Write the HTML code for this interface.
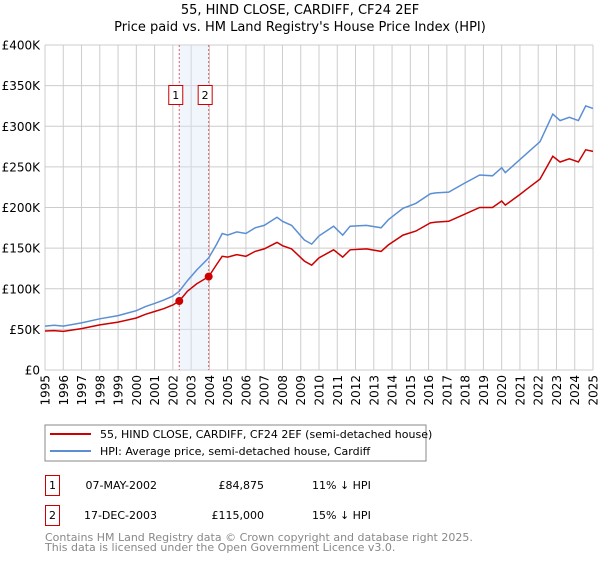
<!DOCTYPE html>
<html><head><meta charset="utf-8"><style>
body{margin:0;background:#fff;}
svg{font-family:"DejaVu Sans","Liberation Sans",sans-serif;}
</style></head><body>
<svg id="c" width="600" height="560" xmlns="http://www.w3.org/2000/svg">
<text x="300" y="14" text-anchor="middle" font-size="13">55, HIND CLOSE, CARDIFF, CF24 2EF</text>
<text x="300" y="31" text-anchor="middle" font-size="13">Price paid vs. HM Land Registry's House Price Index (HPI)</text>
<g id="grid"></g><g id="band"></g><g id="lines"></g><g id="axes"></g>
<rect x="45" y="425" width="381" height="36" fill="none" stroke="#888"/>
<line x1="50" y1="434" x2="91" y2="434" stroke="#cc0000" stroke-width="2"/>
<text x="100" y="438" font-size="11">55, HIND CLOSE, CARDIFF, CF24 2EF (semi-detached house)</text>
<line x1="50" y1="451" x2="91" y2="451" stroke="#5b8fd4" stroke-width="2"/>
<text x="100" y="455" font-size="11">HPI: Average price, semi-detached house, Cardiff</text>
<g>
<rect x="45.5" y="475.5" width="14" height="20" fill="none" stroke="#cc0000"/>
<text x="52.5" y="489" font-size="11" text-anchor="middle">1</text>
<text x="157" y="489" font-size="11" text-anchor="end">07-MAY-2002</text>
<text x="264" y="489" font-size="11" text-anchor="end">£84,875</text>
<text x="312" y="489" font-size="11">11% ↓ HPI</text></g>
<g>
<rect x="45.5" y="505.5" width="14" height="20" fill="none" stroke="#cc0000"/>
<text x="52.5" y="519" font-size="11" text-anchor="middle">2</text>
<text x="157" y="519" font-size="11" text-anchor="end">17-DEC-2003</text>
<text x="264" y="519" font-size="11" text-anchor="end">£115,000</text>
<text x="312" y="519" font-size="11">15% ↓ HPI</text></g>
<text x="45" y="541" font-size="11" fill="#888">Contains HM Land Registry data © Crown copyright and database right 2025.</text>
<text x="45" y="551" font-size="11" fill="#888">This data is licensed under the Open Government Licence v3.0.</text>
</svg>
<script>
const years=[1995,1995.5,1996,1997,1998,1999,2000,2000.5,2001,2001.5,2002,2002.35,2002.8,2003.3,2003.96,2004.4,2004.7,2005,2005.5,2006,2006.5,2007,2007.7,2008,2008.5,2009.2,2009.6,2010,2010.8,2011.3,2011.7,2012.6,2013.4,2013.8,2014.6,2015.3,2016.1,2016.4,2017.1,2017.9,2018.8,2019.5,2020,2020.2,2021,2021.4,2022.1,2022.8,2023.2,2023.7,2024.2,2024.6,2025];
const hpi=[54,55,54,58,63,67,73,78,82,86,91,97,110,123,138,155,168,166,170,168,175,178,188,183,178,160,155,165,177,166,177,178,175,185,199,205,217,218,219,229,240,239,249,243,259,267,281,315,307,311,307,325,322];
const prop=[48,48.5,47.5,51,55.5,59,64,68.5,72,75.5,80,84.9,97,106,115,130,140,139,142,140,146,149,157,153,149,134,129,138,148,139,148,149,146,154,166,171,181,182,183,191,200,200,208,203,216,223,235,263,256,260,256,271,269];
const saleYears=[2002.35,2003.96];
const salePrices=[84.875,115];
const saleLabels=["1","2"];
const yTicks=[0,50,100,150,200,250,300,350,400];
const yTickLabels=["£0","£50K","£100K","£150K","£200K","£250K","£300K","£350K","£400K"];
const xTicks=[1995,1996,1997,1998,1999,2000,2001,2002,2003,2004,2005,2006,2007,2008,2009,2010,2011,2012,2013,2014,2015,2016,2017,2018,2019,2020,2021,2022,2023,2024,2025];
const X0=45,X1=593,Y0=370,Y1=45;
const sx=y=>X0+(y-1995)/30*(X1-X0);
const sy=v=>Y0-v/400*(Y0-Y1);
const NS="http://www.w3.org/2000/svg";
function mk(parent,tag,attrs){const e=document.createElementNS(NS,tag);for(const k in attrs)e.setAttribute(k,attrs[k]);document.getElementById(parent).appendChild(e);return e;}
xTicks.forEach(t=>{const l=mk('grid','line',{x1:sx(t),x2:sx(t),y1:Y1,y2:Y0,stroke:'#ccc'});


const tx=mk('axes','text',{x:0,y:0,'font-size':12,'text-anchor':'end',transform:`translate(${sx(t)+4.5},375) rotate(-90)`});
tx.textContent=t;

});
yTicks.forEach((t,i)=>{const l=mk('grid','line',{x1:X0,x2:X1,y1:sy(t),y2:sy(t),stroke:'#ccc'});


const tx=mk('axes','text',{x:40,y:sy(t)+4.5,'font-size':12,'text-anchor':'end'});
tx.textContent=yTickLabels[i];

});
const band=mk('band','rect',{x:sx(saleYears[0]),y:Y1,width:sx(saleYears[1])-sx(saleYears[0]),height:Y0-Y1,fill:'#dde8f8','fill-opacity':0.4});


saleYears.forEach((s,i)=>{const l=mk('band','line',{x1:sx(s),x2:sx(s),y1:Y1,y2:Y0,stroke:'#e06060','stroke-dasharray':'2,2'});


const r=mk('band','rect',{x:sx(s)-10.5,y:85.5,width:14,height:19,fill:'#fff',stroke:'#cc0000'});


const t=mk('band','text',{x:sx(s)-3.5,y:99,'font-size':11,'text-anchor':'middle'});
t.textContent=saleLabels[i];

});
const pts=a=>years.map((y,i)=>sx(y).toFixed(1)+','+sy(a[i]).toFixed(1)).join(' ');
const hl=mk('lines','polyline',{points:pts(hpi),fill:'none',stroke:'#5b8fd4','stroke-width':1.5});


const pl=mk('lines','polyline',{points:pts(prop),fill:'none',stroke:'#cc0000','stroke-width':1.5});


saleYears.forEach((s,i)=>{const c=mk('lines','circle',{cx:sx(s),cy:sy(salePrices[i]),r:4,fill:'#cc0000'});

});
</script>
</body></html>
